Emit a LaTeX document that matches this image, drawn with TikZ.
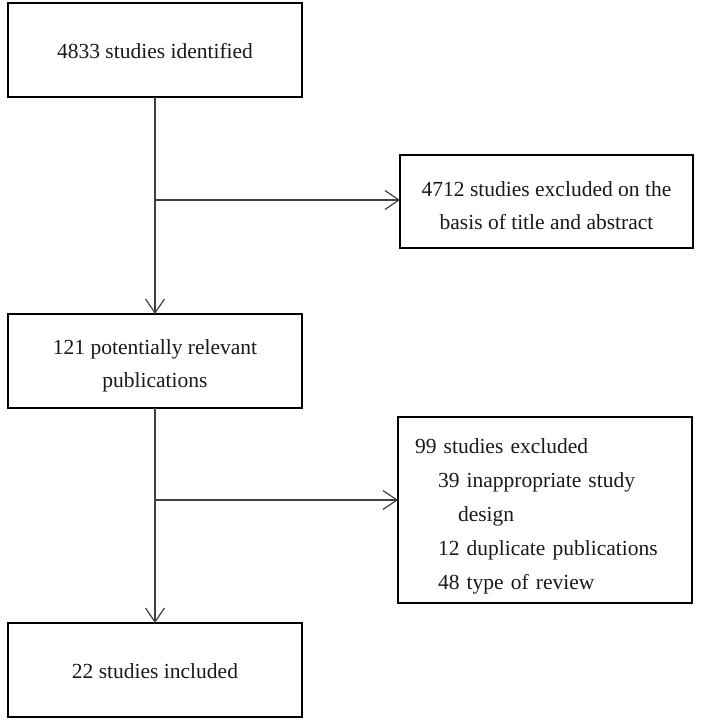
\documentclass[tikz,border=0pt]{standalone}
\usepackage{fontspec}
\setmainfont{Liberation Serif}
\usetikzlibrary{arrows.meta}
\newcommand{\topstrut}[1]{\rule{0pt}{#1}}
\begin{document}
\begin{tikzpicture}[x=1pt,y=-1pt,
  box/.style={draw=black, line width=1.7pt, outer sep=0pt, inner sep=0pt,
    minimum width=294pt, minimum height=94pt, align=center,
    font=\fontsize{21.5}{33}\selectfont, text=black!90},
  conn/.style={draw=black!75, line width=1.3pt},
  arr/.style={conn, -{Straight Barb[length=14pt,width=19pt,line width=1.2pt]}}]
\useasboundingbox (0,0) rectangle (705,726);
\node[box] (b1) at (155,50) {\topstrut{18pt}4833 studies identified};
\node[box, minimum width=293pt, minimum height=93pt] (b2) at (546.5,201.5)
  {\topstrut{24pt}4712 studies excluded on the\\basis of title and abstract};
\node[box] (b3) at (155,361) {\topstrut{24pt}121 potentially relevant\\publications};
\node[box, minimum height=186pt, text width=260pt, inner xsep=17pt, align=left,
  font=\fontsize{21.5}{34}\selectfont] (b4) at (545,510)
  {\topstrut{28pt}99 studies excluded\\
   \hspace*{23pt}39 inappropriate study\\
   \hspace*{43pt}design\\
   \hspace*{23pt}12 duplicate publications\\
   \hspace*{23pt}48 type of review};
\node[box] (b5) at (155,670) {\topstrut{18pt}22 studies included};
\coordinate (c1) at (155,200);
\coordinate (c2) at (155,500);
\draw[arr] (b1.south) -- (b3.north);
\draw[arr] (c1) -- (c1 -| b2.west);
\draw[arr] (b3.south) -- (b5.north);
\draw[arr] (c2) -- (c2 -| b4.west);
\end{tikzpicture}
\end{document}
